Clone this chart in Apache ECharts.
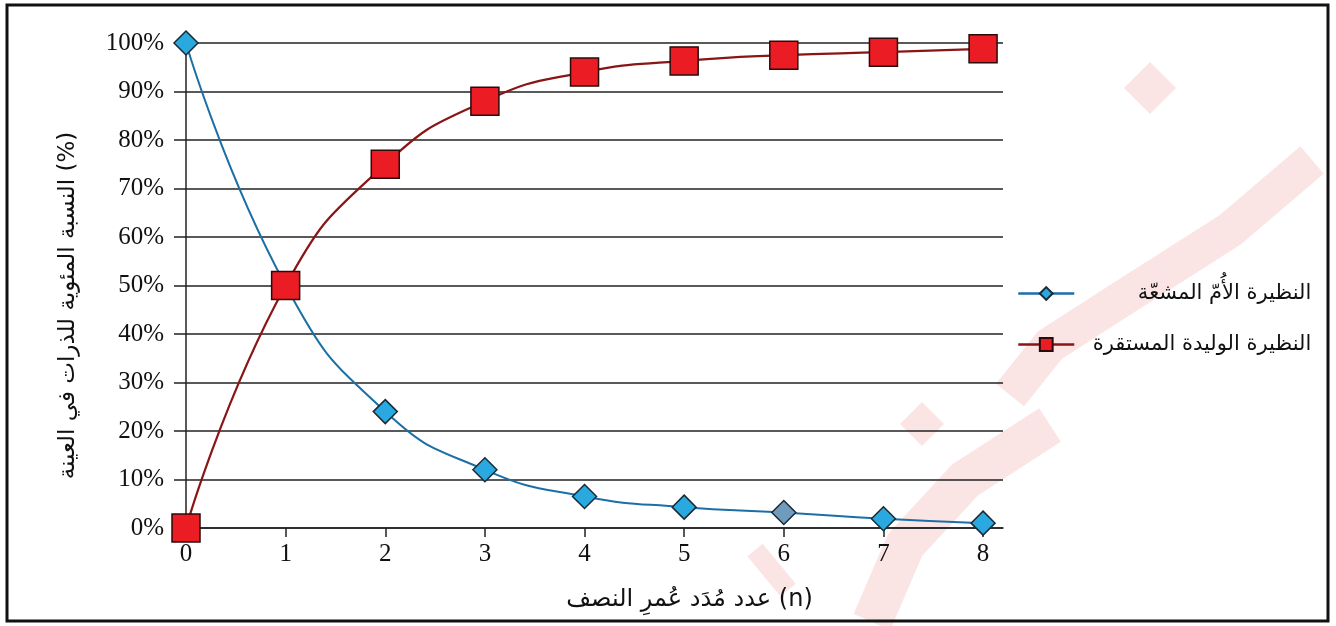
<!DOCTYPE html>
<html>
<head>
<meta charset="utf-8">
<script src="https://cdn.jsdelivr.net/npm/echarts@6/dist/echarts.min.js"></script>
<style>
  html, body { margin: 0; padding: 0; background: #fff; }
  #main { width: 1336px; height: 626px; }
</style>
</head>
<body>
<div id="main"></div>
<script>
// half-lives on the x axis
var halfLives = [0, 1, 2, 3, 4, 5, 6, 7, 8];
// parent (radioactive) isotope, % of atoms in the sample
var parentPct = [100, 50, 24, 12, 6.5, 4.3, 3.2, 1.9, 1.0];
// stable daughter isotope, %
var daughterPct = [0, 50, 75, 88, 94, 96.3, 97.5, 98.1, 98.8];

var parentName = 'النظيرة الأُمّ المشعّة';
var daughterName = 'النظيرة الوليدة المستقرة';

var serif = "'Liberation Serif', 'DejaVu Serif', serif";
var arabic = "'DejaVu Sans', 'Noto Sans', sans-serif";
var pink = 'rgba(238,130,130,0.22)';

var chart = echarts.init(document.getElementById('main'));

var parentData = halfLives.map(function (x, i) {
  var d = { value: [x, parentPct[i]] };
  if (x === 6) d.itemStyle = { color: '#6f9cbc' }; // this marker is greyer in the source
  return d;
});
var daughterData = halfLives.map(function (x, i) { return [x, daughterPct[i]]; });

var option = {
  backgroundColor: '#fff',
  animation: false,
  grid: { left: 186, right: 333, top: 43, bottom: 98 },
  legend: {
    orient: 'vertical',
    left: 1012,
    top: 278,
    itemWidth: 56,
    itemHeight: 16,
    itemGap: 30,
    lineStyle: { width: 2.5 },
    formatter: function (n) { return '{t|' + n + '}'; },
    textStyle: {
      rich: { t: { fontFamily: arabic, fontSize: 21, color: '#111', width: 232, align: 'right' } }
    },
    data: [parentName, daughterName]
  },
  xAxis: {
    type: 'value',
    min: 0,
    max: 8.2,
    interval: 1,
    name: 'عدد مُدَد عُمرِ النصف (n)',
    nameLocation: 'middle',
    nameGap: 60,
    nameTextStyle: { fontFamily: arabic, fontSize: 24, color: '#111', padding: [0, 0, 0, 190] },
    axisLine: { lineStyle: { color: '#222', width: 1.5 } },
    axisTick: { show: true, length: 9, customValues: halfLives, lineStyle: { color: '#222', width: 1.5 } },
    axisLabel: { customValues: halfLives, margin: 14, fontFamily: serif, fontSize: 25, color: '#111' },
    splitLine: { show: false }
  },
  yAxis: {
    type: 'value',
    min: 0,
    max: 100,
    interval: 10,
    name: 'النسبة المئوية للذرات في العينة (%)',
    nameLocation: 'middle',
    nameRotate: 90,
    nameGap: 106,
    nameTextStyle: { fontFamily: arabic, fontSize: 23, color: '#111', padding: [0, 40, 0, 0] },
    axisLine: { show: true, lineStyle: { color: '#222', width: 1.5 } },
    axisTick: { show: true, length: 12, lineStyle: { color: '#222', width: 1.5 } },
    axisLabel: { margin: 22, fontFamily: serif, fontSize: 25, color: '#111', formatter: '{value}%' },
    splitLine: { show: true, lineStyle: { color: '#222', width: 1.5 } }
  },
  graphic: [
    // faint watermark behind the plot
    { type: 'polygon', z: -10, shape: { points: [[1150, 62], [1176, 88], [1150, 114], [1124, 88]] }, style: { fill: pink } },
    { type: 'polyline', z: -10, shape: { points: [[1312, 160], [1230, 230], [1120, 300], [1050, 345], [1010, 395]] }, style: { stroke: pink, lineWidth: 36, fill: null } },
    { type: 'polygon', z: -10, shape: { points: [[922, 402], [944, 424], [922, 446], [900, 424]] }, style: { fill: pink } },
    { type: 'polyline', z: -10, shape: { points: [[1050, 425], [965, 480], [905, 545], [872, 622]] }, style: { stroke: pink, lineWidth: 40, fill: null } },
    { type: 'polyline', z: -10, shape: { points: [[755, 550], [788, 590]] }, style: { stroke: pink, lineWidth: 20, fill: null } },
    // outer frame
    { type: 'rect', z: 100, shape: { x: 7, y: 5, width: 1321, height: 616 }, style: { fill: null, stroke: '#111', lineWidth: 3 } }
  ],
  series: [
    {
      name: parentName,
      type: 'line',
      smooth: 0.5,
      data: parentData,
      symbol: 'diamond',
      symbolSize: 24,
      lineStyle: { color: '#1b6fa6', width: 2 },
      itemStyle: { color: '#29a9e0', borderColor: '#1a2a36', borderWidth: 1.5 },
      z: 3
    },
    {
      name: daughterName,
      type: 'line',
      smooth: 0.5,
      data: daughterData,
      symbol: 'rect',
      symbolSize: 28,
      lineStyle: { color: '#8a1515', width: 2.2 },
      itemStyle: { color: '#ec1c24', borderColor: '#2a0a0a', borderWidth: 1.5 },
      z: 4
    }
  ]
};

chart.setOption(option);
</script>
</body>
</html>
